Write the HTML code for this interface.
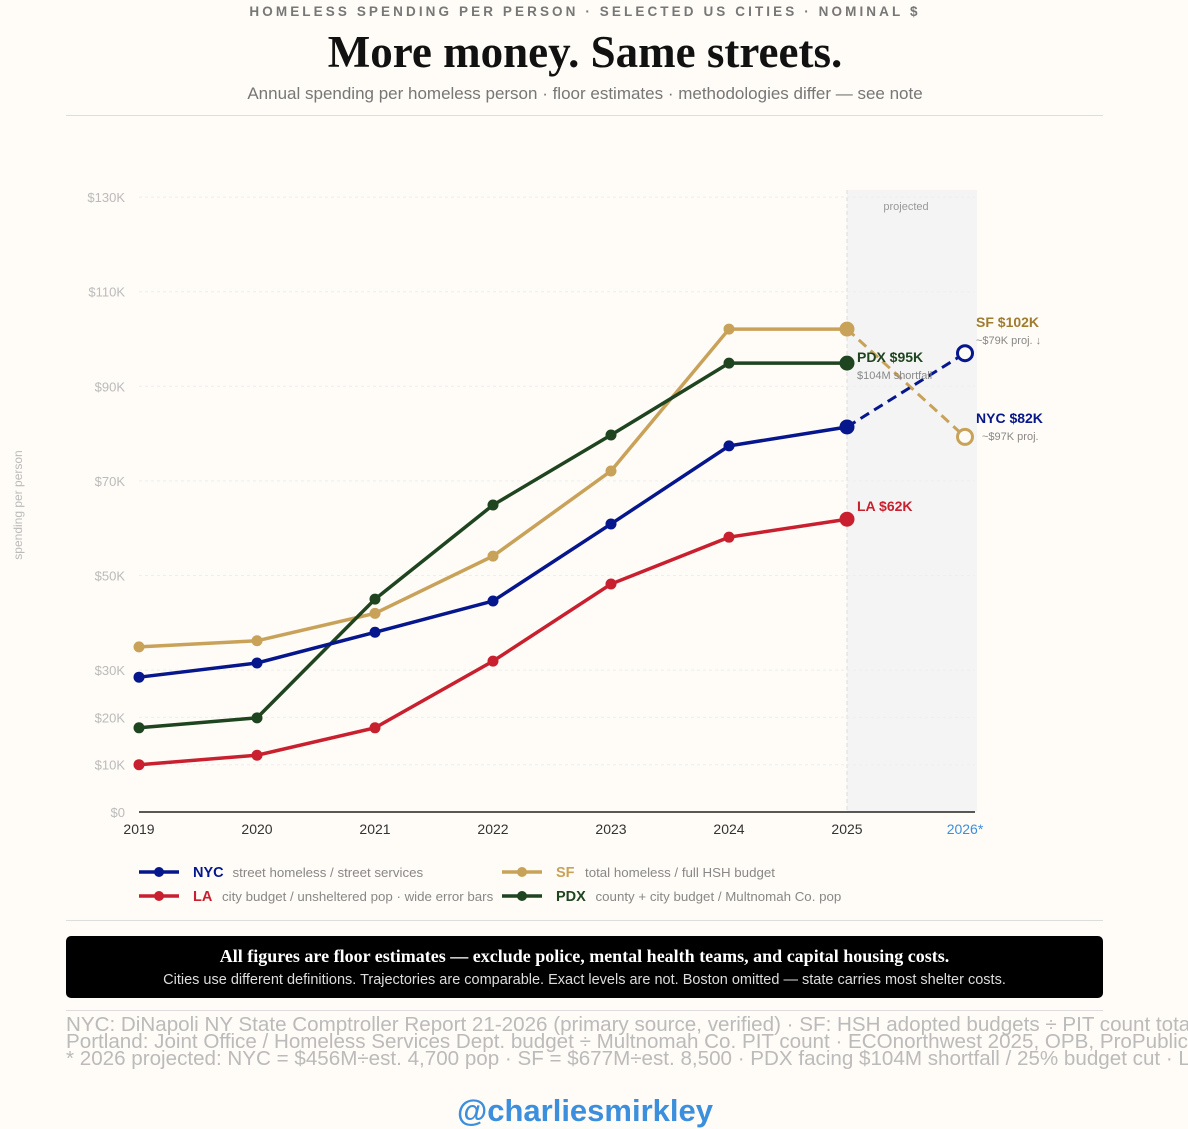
<!DOCTYPE html>
<html><head><meta charset="utf-8"><style>
body{margin:0;width:1188px;height:1129px;background:#fffbf6;font-family:"Liberation Sans",sans-serif;overflow:hidden;position:relative}
.a{position:absolute;white-space:nowrap}
</style></head><body>
<div class="a" style="left:0;width:1170px;top:4px;text-align:center;font-size:13.5px;font-weight:bold;letter-spacing:3.1px;color:#777">HOMELESS SPENDING PER PERSON · SELECTED US CITIES · NOMINAL $</div>
<div class="a" style="left:0;width:1170px;top:26px;text-align:center;font-family:'Liberation Serif',serif;font-size:45px;font-weight:bold;color:#111">More money. Same streets.</div>
<div class="a" style="left:0;width:1170px;top:84px;text-align:center;font-size:17px;color:#777">Annual spending per homeless person · floor estimates · methodologies differ — see note</div>
<div class="a" style="left:66px;width:1037px;top:115px;height:1px;background:#ddd"></div>
<svg class="a" style="left:0;top:0" width="1188" height="920" id="chart"></svg>
<div class="a" style="left:66px;width:1037px;top:920px;height:1px;background:#ddd"></div>
<div class="a" style="left:66px;width:1037px;top:936px;height:62px;background:#000;border-radius:5px;color:#fff;text-align:center">
<div style="font-family:'Liberation Serif',serif;font-weight:bold;font-size:18px;margin-top:10px">All figures are floor estimates — exclude police, mental health teams, and capital housing costs.</div>
<div style="font-size:14.5px;color:#ddd;margin-top:5px">Cities use different definitions. Trajectories are comparable. Exact levels are not. Boston omitted — state carries most shelter costs.</div></div>
<div class="a" style="left:66px;width:1037px;top:1010px;height:1px;background:#ddd"></div>
<div class="a" style="left:66px;top:1016px;font-size:20.6px;line-height:17px;color:#bbb">NYC: DiNapoli NY State Comptroller Report 21-2026 (primary source, verified) · SF: HSH adopted budgets ÷ PIT count total<br>Portland: Joint Office / Homeless Services Dept. budget ÷ Multnomah Co. PIT count · ECOnorthwest 2025, OPB, ProPublica<br>* 2026 projected: NYC = $456M÷est. 4,700 pop · SF = $677M÷est. 8,500 · PDX facing $104M shortfall / 25% budget cut · LA</div>
<div class="a" style="left:0;width:1170px;top:1093px;text-align:center;font-size:31px;font-weight:bold;color:#3b8fdc">@charliesmirkley</div>
<script>
const years=[2019,2020,2021,2022,2023,2024,2025,2026];
const yTicks=[0,10,20,30,50,70,90,110,130];
const nyc=[28.5,31.5,38,44.6,60.9,77.4,81.4,97];
const sf=[34.9,36.2,42,54.1,72.1,102.1,102.1,79.3];
const la=[10,12,17.8,31.9,48.2,58.1,61.9];
const pdx=[17.8,19.9,45,64.9,79.7,94.9,94.9];
const svg=document.getElementById('chart');const NS='http://www.w3.org/2000/svg';
const x=i=>139+i*118, y=v=>812-v*4.73;
function mk(t,a,p){const e=document.createElementNS(NS,t);for(const k in a)e.setAttribute(k,a[k]);(p||svg).appendChild(e);return e;}
let r=mk('rect',{x:x(6),y:190,width:130,height:622,fill:'#f4f4f4'});

let pl=mk('text',{x:906,y:210,'font-size':11,fill:'#999','text-anchor':'middle'});pl.textContent='projected';

mk('line',{x1:x(6),x2:x(6),y1:190,y2:812,stroke:'#ddd','stroke-dasharray':'4,3'});
yTicks.forEach(v=>{
 if(v>0)mk('line',{x1:139,x2:975,y1:y(v),y2:y(v),stroke:'#eee','stroke-dasharray':'3,3'});
 const t=mk('text',{x:125,y:y(v)+5,'font-size':13,fill:'#bbb','text-anchor':'end'});
 t.textContent=v==0?'$0':'$'+v+'K';
 
});
let yt=mk('text',{transform:'translate(22,505) rotate(-90)','font-size':12,fill:'#bbb','text-anchor':'middle'});yt.textContent='spending per person';

mk('line',{x1:139,x2:975,y1:812,y2:812,stroke:'#222','stroke-width':1.5});
years.forEach((yr,i)=>{const t=mk('text',{x:x(i),y:834,'font-size':14,fill:i==7?'#3b8fdc':'#333','text-anchor':'middle'});
 t.textContent=i==7?'2026*':yr;});
function series(name,d,c,proj){
 const n=Math.min(d.length,7);
 const g=mk('g',{});
 let pts=[];for(let i=0;i<n;i++)pts.push(x(i)+','+y(d[i]));
 mk('polyline',{points:pts.join(' '),fill:'none',stroke:c,'stroke-width':3.5},g);
 if(proj&&d.length>7){mk('line',{x1:x(6),y1:y(d[6]),x2:x(7),y2:y(d[7]),stroke:c,'stroke-width':3,'stroke-dasharray':'10,6'},g);
  const h=mk('circle',{cx:x(7),cy:y(d[7]),r:7.5,fill:'#fffbf6',stroke:c,'stroke-width':3},g);
  }
 for(let i=0;i<n;i++){const p=mk('circle',{cx:x(i),cy:y(d[i]),r:i==6?7.5:5.5,fill:c},g);
  }
}
series('sf',sf,'#c9a25a',true);series('la',la,'#c8202f');series('pdx',pdx,'#1f4420');series('nyc',nyc,'#06168c',true);
function lab(tx,xx,yy,c,s,b){const t=mk('text',{x:xx,y:yy,'font-size':s,fill:c,'font-weight':b?'bold':'normal'});t.textContent=tx;
 }
lab('SF $102K',976,327,'#a07c30',14,1);lab('~$79K proj. ↓',976,344,'#888',11);
lab('PDX $95K',857,362,'#1f4420',14,1);lab('$104M shortfall',857,379,'#888',11);
lab('NYC $82K',976,423,'#06168c',14,1);lab('~$97K proj.',982,440,'#888',11);
lab('LA $62K',857,511,'#c8202f',14,1);
function leg(nm,c,xx,yy,code,desc){const g=mk('g',{});
 mk('line',{x1:xx,x2:xx+40,y1:yy,y2:yy,stroke:c,'stroke-width':3.5},g);mk('circle',{cx:xx+20,cy:yy,r:5,fill:c},g);
 const t=mk('text',{x:xx+54,y:yy+5,'font-size':14.5,'font-weight':'bold',fill:c},g);t.textContent=code;
 const d=mk('text',{x:xx+54+(code.length*10.5)+8,y:yy+5,'font-size':13.3,fill:'#888'},g);d.textContent=desc;}
leg('nyc','#06168c',139,872,'NYC','street homeless / street services');
leg('la','#c8202f',139,896,'LA','city budget / unsheltered pop · wide error bars');
leg('sf','#c9a25a',502,872,'SF','total homeless / full HSH budget');
leg('pdx','#1f4420',502,896,'PDX','county + city budget / Multnomah Co. pop');
</script>
</body></html>
